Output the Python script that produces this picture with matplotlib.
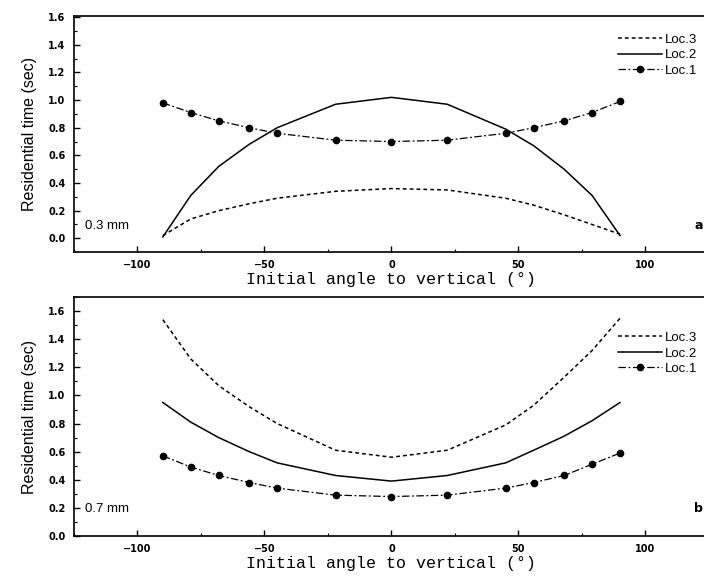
import matplotlib.pyplot as plt
from matplotlib.ticker import MultipleLocator

# initial angle (deg) for each computed trajectory
angle = [-90, -79, -68, -56, -45, -22, 0, 22, 45, 56, 68, 79, 90]

# (a) 0.3 mm particles
a_loc1 = [0.98, 0.91, 0.85, 0.80, 0.76, 0.71, 0.70, 0.71, 0.76, 0.80, 0.85, 0.91, 0.99]
a_loc2 = [0.01, 0.31, 0.52, 0.68, 0.80, 0.97, 1.02, 0.97, 0.79, 0.67, 0.50, 0.31, 0.02]
a_loc3 = [0.02, 0.14, 0.20, 0.25, 0.29, 0.34, 0.36, 0.35, 0.29, 0.24, 0.17, 0.10, 0.03]

# (b) 0.7 mm particles
b_loc1 = [0.57, 0.49, 0.43, 0.38, 0.34, 0.29, 0.28, 0.29, 0.34, 0.38, 0.43, 0.51, 0.59]
b_loc2 = [0.95, 0.81, 0.70, 0.60, 0.52, 0.43, 0.39, 0.43, 0.52, 0.61, 0.71, 0.82, 0.95]
b_loc3 = [1.54, 1.26, 1.07, 0.92, 0.80, 0.61, 0.56, 0.61, 0.79, 0.93, 1.13, 1.32, 1.55]

panels = [
    (a_loc1, a_loc2, a_loc3, '0.3 mm', 'a', (-0.1, 1.61), 0.975),
    (b_loc1, b_loc2, b_loc3, '0.7 mm', 'b', (0.0, 1.7), 0.905),
]

fig = plt.figure(figsize=(7.04, 5.85), dpi=100)
axes = [fig.add_axes([0.105, 0.569, 0.902, 0.404]),
        fig.add_axes([0.105, 0.084, 0.902, 0.408])]

for ax, (l1, l2, l3, size, tag, ylim, leg_top) in zip(axes, panels):
    ax.plot(angle, l3, color='black', lw=1.1, dashes=(2.5, 2), label='Loc.3')
    ax.plot(angle, l2, color='black', lw=1.1, label='Loc.2')
    ax.plot(angle, l1, color='black', lw=0.9, dashes=(6, 2, 1.5, 2),
            marker='o', ms=4.5, label='Loc.1')

    ax.set_xlim(-125, 125)
    ax.set_ylim(*ylim)
    ax.xaxis.set_major_locator(MultipleLocator(50))
    ax.xaxis.set_minor_locator(MultipleLocator(25))
    ax.yaxis.set_major_locator(MultipleLocator(0.2))
    ax.yaxis.set_minor_locator(MultipleLocator(0.1))
    ax.yaxis.set_major_formatter(plt.FormatStrFormatter('%.1f'))
    ax.tick_params(which='both', direction='in', top=False, right=False)
    ax.tick_params(which='major', length=4, width=1, labelsize=7, pad=6)
    ax.tick_params(which='minor', length=2.5, width=0.8)
    for lab in ax.get_xticklabels() + ax.get_yticklabels():
        lab.set_fontweight('bold')
    for sp in ax.spines.values():
        sp.set_linewidth(1.2)

    ax.set_xlabel('Initial angle to vertical (°)', family='Liberation Mono',
                  fontsize=12, labelpad=1)
    ax.set_ylabel('Residential time (sec)', family='Liberation Sans',
                  fontsize=11.5, labelpad=8)

    ax.text(0.018, 0.1, size, transform=ax.transAxes, fontsize=9.5,
            family='Liberation Sans')
    ax.text(0.99, 0.1, tag, transform=ax.transAxes, fontsize=9,
            fontweight='bold', ha='right')

    ax.legend(loc='upper right', bbox_to_anchor=(1.0, leg_top), frameon=False,
              handlelength=3.3, handletextpad=0.2, labelspacing=0.25,
              prop={'family': 'Liberation Sans', 'size': 9.5})

fig.savefig('out.png', dpi=100)
